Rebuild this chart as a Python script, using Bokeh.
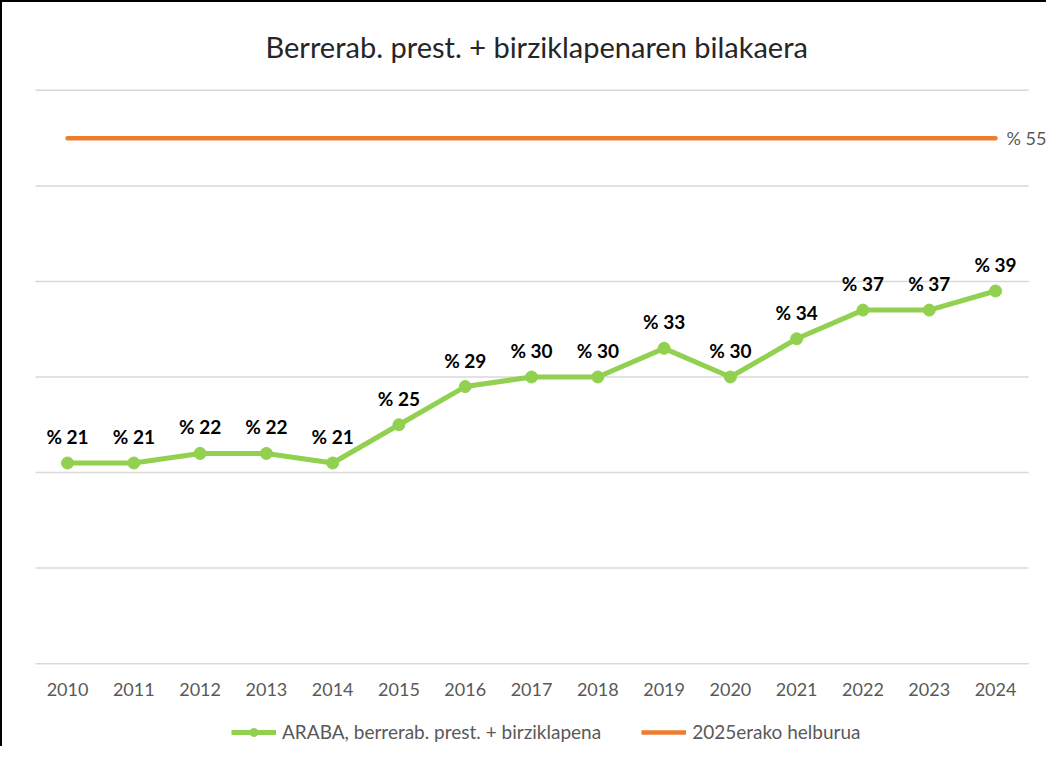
from bokeh.plotting import figure
from bokeh.layouts import column
from bokeh.models import (ColumnDataSource, LabelSet, Label, Legend, LegendItem,
                          Range1d, FixedTicker)
from bokeh.core.properties import value
from bokeh.embed import file_html
from bokeh.resources import INLINE

years = ["2010", "2011", "2012", "2013", "2014", "2015", "2016", "2017",
         "2018", "2019", "2020", "2021", "2022", "2023", "2024"]
araba = [21, 21, 22, 22, 21, 25, 29, 30, 30, 33, 30, 34, 37, 37, 39]
helburua = [55, 55, 55, 55, 55, 55, 55, 55, 55, 55, 55, 55, 55, 55, 55]
y_grid_ticks = [0, 10, 20, 30, 40, 50, 60]

title_text = "Berrerab. prest. + birziklapenaren bilakaera"
series_name = "ARABA, berrerab. prest. + birziklapena"
target_name = "2025erako helburua"

xs = list(range(len(years)))
FONT = "Lato"
GREEN = "#92D050"
ORANGE = "#ED7D31"
GRAY = "#595959"
GRID = "#D9D9D9"

W = 1044
n = len(years)
# x extent (category units) of the frame and of the gridlines
x_lo, x_hi = -0.981, (n - 1) + 0.769
gx_lo, gx_hi = -0.483, (n - 1) + 0.5

p = figure(width=W, height=702, x_range=Range1d(x_lo, x_hi),
           y_range=Range1d(-0.3, 60.3), output_backend="svg",
           toolbar_location=None, y_axis_location=None,
           min_border_left=0, min_border_right=0,
           min_border_top=80, min_border_bottom=38)
p.outline_line_color = None
p.background_fill_color = "white"
p.border_fill_color = "white"
p.xgrid.visible = False
p.ygrid.visible = False

# horizontal gridlines
p.segment(x0=[gx_lo] * len(y_grid_ticks), x1=[gx_hi] * len(y_grid_ticks),
          y0=y_grid_ticks, y1=y_grid_ticks, line_color=GRID, line_width=1.5)

ax = p.xaxis[0]
ax.ticker = FixedTicker(ticks=xs)
ax.major_label_overrides = {i: y for i, y in enumerate(years)}
ax.axis_line_color = None
ax.major_tick_line_color = None
ax.minor_tick_line_color = None
ax.major_tick_out = 0
ax.major_label_text_font = FONT
ax.major_label_text_font_size = "18px"
ax.major_label_text_color = GRAY
ax.major_label_standoff = 16

p.title.text = title_text
p.title.align = "left"
p.title.offset = 263
p.title.text_font = FONT
p.title.text_font_size = "29px"
p.title.text_font_style = "normal"
p.title.text_color = "#262626"
p.title.standoff = 48

src = ColumnDataSource(dict(x=xs, y=araba, t=[f"% {v}" for v in araba]))
tsrc = ColumnDataSource(dict(x=xs, y=helburua))

orange = p.line("x", "y", source=tsrc, line_color=ORANGE, line_width=4.5,
                line_cap="round")
gline = p.line("x", "y", source=src, line_color=GREEN, line_width=5,
               line_join="round")
gdots = p.scatter("x", "y", source=src, size=12, fill_color=GREEN,
                  line_color=GREEN)

labels = LabelSet(x="x", y="y", text="t", source=src, text_align="center",
                  text_baseline="alphabetic", y_offset=19,
                  text_font=value(FONT), text_font_size=value("19px"),
                  text_font_style=value("bold"), text_color=value("black"))
p.add_layout(labels)

p.add_layout(Label(x=xs[-1], y=helburua[-1], x_offset=11, text=f"% {helburua[-1]}",
                   text_baseline="middle", text_align="left", text_font=FONT,
                   text_font_size="18px", text_color=GRAY))

# legend strip (same data, drawn off-view so only the legend shows)
lg = figure(width=W, height=42, output_backend="svg", toolbar_location=None,
            x_axis_location=None, y_axis_location=None,
            x_range=Range1d(100, 101), y_range=Range1d(100, 101),
            min_border_left=0, min_border_right=0, min_border_top=0,
            min_border_bottom=0)
lg.outline_line_color = None
lg.grid.visible = False
lg_g_line = lg.line("x", "y", source=src, line_color=GREEN, line_width=5)
lg_g_dot = lg.scatter("x", "y", source=src, size=12, fill_color=GREEN,
                      line_color=GREEN)
lg_o_line = lg.line("x", "y", source=tsrc, line_color=ORANGE, line_width=4.5)
legend = Legend(items=[LegendItem(label=series_name, renderers=[lg_g_line, lg_g_dot]),
                       LegendItem(label=target_name, renderers=[lg_o_line])],
                orientation="horizontal", location=(229, 3),
                label_text_font=FONT, label_text_font_size="19px",
                label_text_color=GRAY, glyph_width=45, glyph_height=20,
                spacing=40, label_standoff=6, border_line_color=None,
                background_fill_alpha=0, padding=0, margin=0)
lg.add_layout(legend)

layout = column(p, lg, styles={"border-left": "2px solid black",
                               "border-top": "2px solid black"})

open("out.html", "w").write(file_html(layout, INLINE))
